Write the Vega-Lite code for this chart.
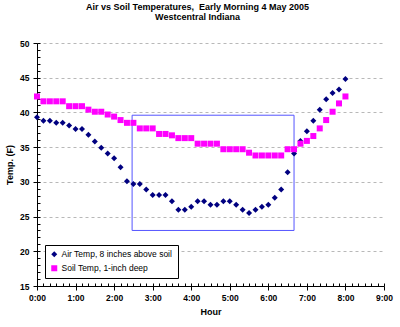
{
  "$schema": "https://vega.github.io/schema/vega-lite/v6.json",
  "width": 347,
  "height": 243,
  "autosize": {"type": "none"},
  "padding": {"left": 37, "top": 43, "right": 16, "bottom": 41},
  "background": "white",
  "title": {
    "text": ["Air vs Soil Temperatures,\u00a0 Early Morning 4 May 2005", "Westcentral Indiana"],
    "font": "Liberation Sans",
    "fontSize": 9,
    "fontWeight": "bold",
    "lineHeight": 10,
    "anchor": "middle",
    "offset": 17,
    "dx": -13,
    "color": "black"
  },
  "config": {
    "view": {"stroke": null},
    "axis": {
      "labelFont": "Liberation Sans",
      "labelFontWeight": "bold",
      "labelFontSize": 8.5,
      "labelColor": "black",
      "titleFont": "Liberation Sans",
      "titleFontWeight": "bold",
      "titleFontSize": 9,
      "titleColor": "black",
      "domainColor": "black",
      "tickColor": "black"
    }
  },
  "datasets": {
    "temps": [
      {"minute": 0, "air": 39.3, "soil": 42.3},
      {"minute": 10, "air": 38.8, "soil": 41.6},
      {"minute": 20, "air": 38.8, "soil": 41.6},
      {"minute": 30, "air": 38.5, "soil": 41.6},
      {"minute": 40, "air": 38.5, "soil": 41.6},
      {"minute": 50, "air": 38.1, "soil": 40.9},
      {"minute": 60, "air": 37.6, "soil": 40.9},
      {"minute": 70, "air": 37.6, "soil": 40.9},
      {"minute": 80, "air": 36.8, "soil": 40.4},
      {"minute": 90, "air": 35.8, "soil": 40.1},
      {"minute": 100, "air": 34.9, "soil": 40.1},
      {"minute": 110, "air": 34.1, "soil": 39.7},
      {"minute": 120, "air": 33.4, "soil": 39.4},
      {"minute": 130, "air": 32.1, "soil": 38.9},
      {"minute": 140, "air": 30.1, "soil": 38.5},
      {"minute": 150, "air": 29.7, "soil": 38.5},
      {"minute": 160, "air": 29.7, "soil": 37.7},
      {"minute": 170, "air": 28.9, "soil": 37.7},
      {"minute": 180, "air": 28.1, "soil": 37.7},
      {"minute": 190, "air": 28.1, "soil": 36.9},
      {"minute": 200, "air": 28.1, "soil": 36.9},
      {"minute": 210, "air": 27.2, "soil": 36.7},
      {"minute": 220, "air": 26.0, "soil": 36.3},
      {"minute": 230, "air": 26.0, "soil": 36.3},
      {"minute": 240, "air": 26.4, "soil": 36.3},
      {"minute": 250, "air": 27.2, "soil": 35.5},
      {"minute": 260, "air": 27.2, "soil": 35.5},
      {"minute": 270, "air": 26.7, "soil": 35.5},
      {"minute": 280, "air": 26.7, "soil": 35.5},
      {"minute": 290, "air": 27.2, "soil": 34.7},
      {"minute": 300, "air": 27.2, "soil": 34.7},
      {"minute": 310, "air": 26.7, "soil": 34.7},
      {"minute": 320, "air": 26.0, "soil": 34.7},
      {"minute": 330, "air": 25.5, "soil": 34.2},
      {"minute": 340, "air": 26.0, "soil": 33.8},
      {"minute": 350, "air": 26.4, "soil": 33.8},
      {"minute": 360, "air": 26.7, "soil": 33.8},
      {"minute": 370, "air": 27.7, "soil": 33.8},
      {"minute": 380, "air": 28.9, "soil": 33.8},
      {"minute": 390, "air": 31.4, "soil": 34.7},
      {"minute": 400, "air": 34.1, "soil": 34.7},
      {"minute": 410, "air": 35.9, "soil": 35.5},
      {"minute": 420, "air": 37.3, "soil": 35.9},
      {"minute": 430, "air": 38.8, "soil": 36.6},
      {"minute": 440, "air": 40.4, "soil": 37.7},
      {"minute": 450, "air": 41.9, "soil": 38.9},
      {"minute": 460, "air": 42.8, "soil": 40.1},
      {"minute": 470, "air": 43.3, "soil": 41.3},
      {"minute": 480, "air": 44.8, "soil": 42.3}
    ],
    "box": [
      {"x0": 148, "x1": 400, "y0": 23, "y1": 39.6}
    ]
  },
  "resolve": {"axis": {"x": "independent", "y": "independent"}},
  "layer": [
    {
      "data": {"name": "temps"},
      "mark": {"type": "point", "opacity": 0},
      "encoding": {
        "x": {
          "field": "minute", "type": "quantitative",
          "scale": {"domain": [0, 540], "nice": false, "zero": false},
          "axis": {
            "orient": "bottom",
            "values": [0,10,20,30,40,50,60,70,80,90,100,110,120,130,140,150,160,170,180,190,200,210,220,230,240,250,260,270,280,290,300,310,320,330,340,350,360,370,380,390,400,410,420,430,440,450,460,470,480,490,500,510,520,530,540],
            "labels": false, "domain": false, "grid": false, "tickSize": -3, "title": null
          }
        },
        "y": {
          "field": "air", "type": "quantitative",
          "scale": {"domain": [15, 50], "nice": false, "zero": false},
          "axis": {
            "orient": "left",
            "values": [15,16,17,18,19,20,21,22,23,24,25,26,27,28,29,30,31,32,33,34,35,36,37,38,39,40,41,42,43,44,45,46,47,48,49,50],
            "labels": false, "domain": false, "grid": false, "tickSize": -3, "title": null
          }
        }
      }
    },
    {
      "data": {"name": "box"},
      "mark": {"type": "rect", "fillOpacity": 0, "stroke": "#5555ff", "strokeWidth": 1},
      "encoding": {
        "x": {"field": "x0", "type": "quantitative", "axis": null, "scale": {"domain": [0, 540], "nice": false, "zero": false}},
        "x2": {"field": "x1"},
        "y": {"field": "y0", "type": "quantitative", "axis": null, "scale": {"domain": [15, 50], "nice": false, "zero": false}},
        "y2": {"field": "y1"}
      }
    },
    {
      "data": {"name": "temps"},
      "transform": [{"fold": ["air", "soil"]}],
      "mark": {"type": "point", "filled": true, "opacity": 1, "size": 36},
      "encoding": {
        "x": {
          "field": "minute", "type": "quantitative",
          "scale": {"domain": [0, 540], "nice": false, "zero": false},
          "axis": {
            "orient": "bottom",
            "values": [0, 60, 120, 180, 240, 300, 360, 420, 480, 540],
            "labelExpr": "(datum.value / 60) + ':00'",
            "tickSize": 4, "grid": false, "labelPadding": 3, "labelFlush": false, "labelOverlap": false,
            "title": "Hour", "titlePadding": 6
          }
        },
        "y": {
          "field": "value", "type": "quantitative",
          "scale": {"domain": [15, 50], "nice": false, "zero": false},
          "axis": {
            "orient": "left",
            "values": [15, 20, 25, 30, 35, 40, 45, 50],
            "tickSize": 4,
            "grid": true, "gridDash": [3, 3], "gridColor": "#b8b8b8",
            "labelPadding": 4, "labelOverlap": false,
            "title": "Temp. (F)", "titlePadding": 5
          }
        },
        "color": {
          "field": "key", "type": "nominal",
          "scale": {"domain": ["air", "soil"], "range": ["#000080", "#ff00ff"]},
          "legend": {
            "orient": "bottom-left", "offset": 8, "padding": 5,
            "strokeColor": "black", "fillColor": "white", "title": null,
            "labelFont": "Liberation Sans", "labelFontSize": 8.5, "labelColor": "black",
            "labelLimit": 300, "symbolSize": 36, "rowPadding": 5, "labelOffset": 3,
            "labelExpr": "datum.value == 'air' ? 'Air Temp, 8 inches above soil' : 'Soil Temp, 1-inch deep'"
          }
        },
        "shape": {
          "field": "key", "type": "nominal",
          "scale": {"domain": ["air", "soil"], "range": ["diamond", "square"]}
        }
      }
    }
  ]
}
